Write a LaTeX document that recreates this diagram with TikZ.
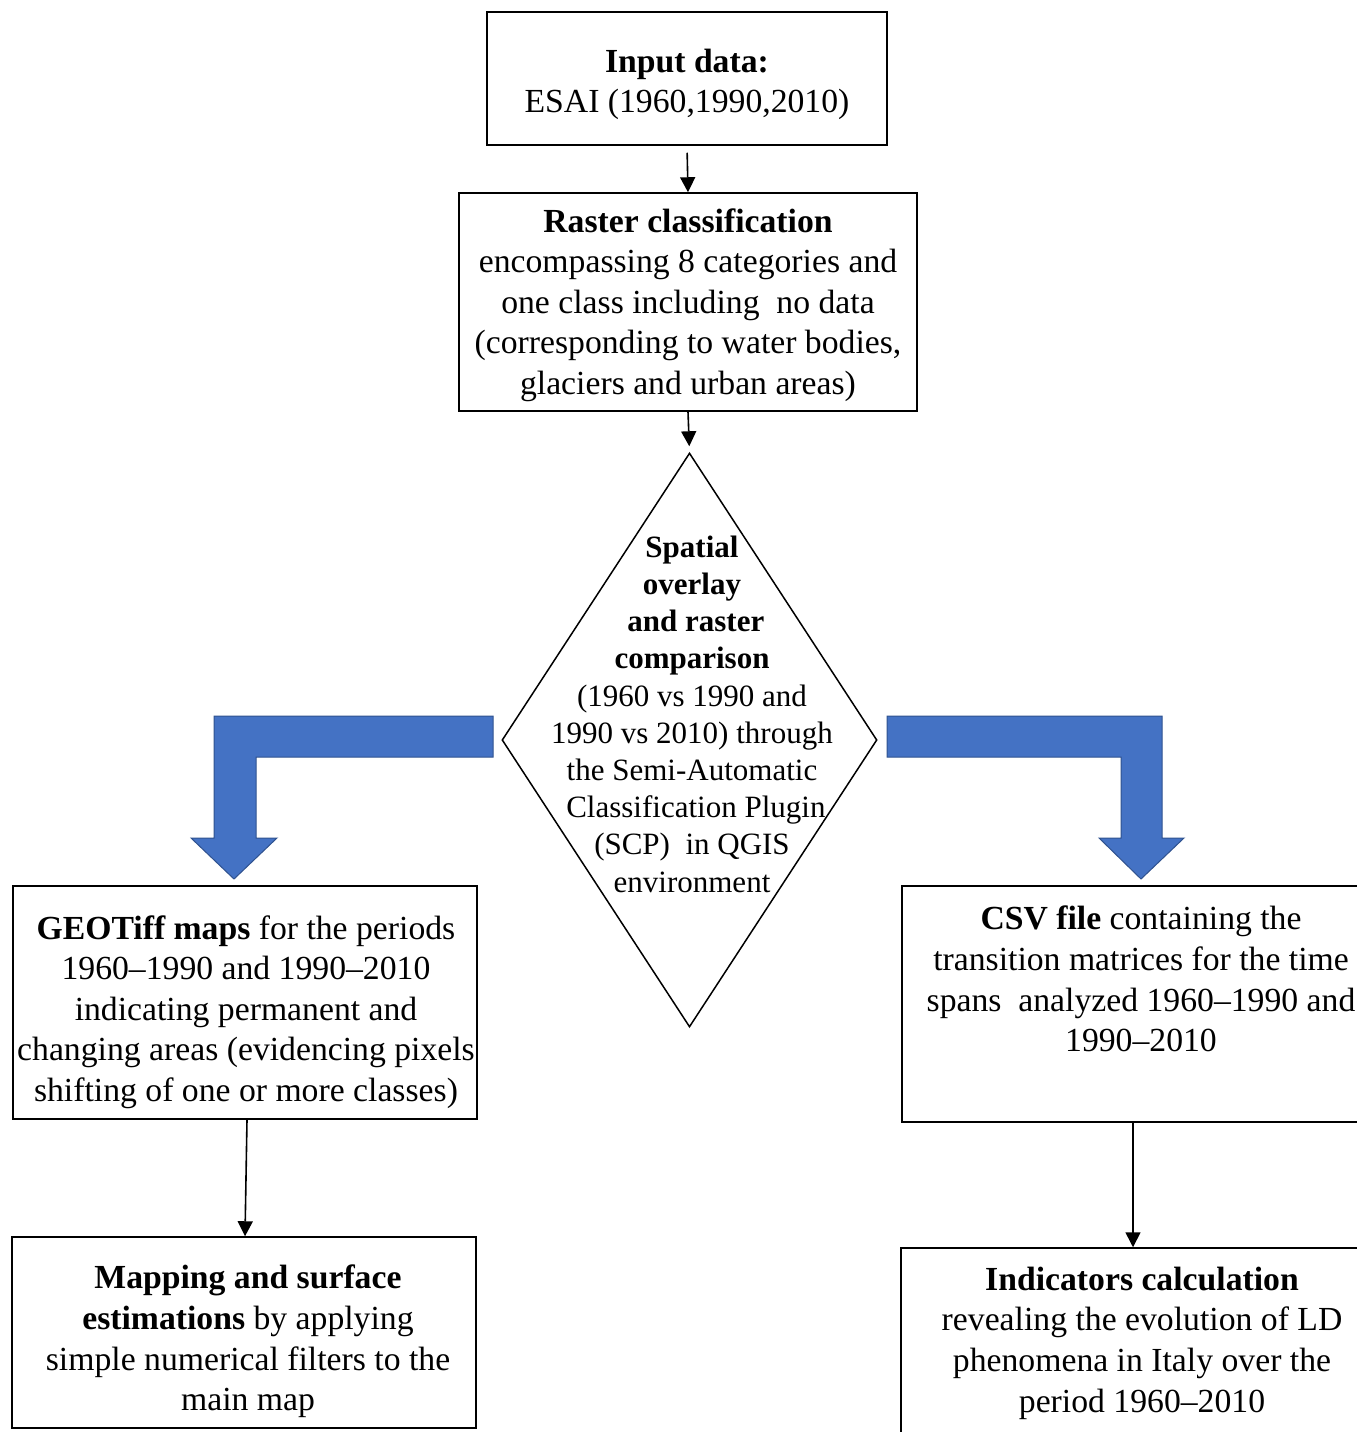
\documentclass[tikz,border=0pt]{standalone}
\usepackage{fontspec}
\setmainfont{Liberation Serif}
\usetikzlibrary{arrows.meta,shapes.geometric}
\definecolor{arrowblue}{HTML}{4472C4}
\definecolor{arrowedge}{HTML}{2F528F}
\tikzset{
  box/.style={draw, line width=1.5pt, inner sep=0pt},
  txt/.style={align=center, inner sep=0pt, font=\fontsize{33.7}{40.6}\selectfont},
  dtxt/.style={align=center, inner sep=0pt, font=\fontsize{31}{37.2}\selectfont},
  conn/.style={line width=1.6pt, -{Triangle[width=15pt,length=15pt]}},
  bigarrow/.style={fill=arrowblue, draw=arrowedge, line width=1pt, line join=miter}
}
\begin{document}
\begin{tikzpicture}[x=1pt,y=-1pt]
\useasboundingbox (0,0) rectangle (1357,1432);

\node[box, minimum width=400, minimum height=133] (input) at (687,78.5) {};
\node[txt] (inputtext) at (687,84.5)
  {\textbf{Input data:}\\ESAI (1960,1990,2010)};
\node[box, minimum width=458, minimum height=218] (raster) at (688,302) {};
\node[txt] (rastertext) at (688,305)
  {\textbf{Raster classification}\\encompassing 8 categories and\\one class including\ \ no data\\(corresponding to water bodies,\\glaciers and urban areas)};

\node[draw, diamond, line width=1.5pt, inner sep=0pt, minimum width=375, minimum height=574] (dia) at (689.5,740) {};
\node[dtxt] (diatext) at (692,714)
  {\textbf{Spatial}\\\textbf{overlay}\\\ \textbf{and raster}\\\textbf{comparison}\\(1960 vs 1990 and\\1990 vs 2010) through\\the Semi-Automatic\\\ Classification Plugin\\(SCP)\ \ in QGIS\\environment};

\node[box, minimum width=464, minimum height=233] (geo) at (245,1002.5) {};
\node[txt] (geotext) at (246,1012)
  {\textbf{GEOTiff maps} for the periods\\1960--1990 and 1990--2010\\indicating permanent and\\changing areas (evidencing pixels\\shifting of one or more classes)};
\node[box, minimum width=464, minimum height=191] (map) at (244,1332.5) {};
\node[txt] (maptext) at (248,1341.5)
  {\textbf{Mapping and surface}\\\textbf{estimations} by applying\\simple numerical filters to the\\main map};

\node[box, minimum width=478, minimum height=236] (csv) at (1141,1004) {};
\node[txt] (csvtext) at (1141,979)
  {\textbf{CSV file} containing the\\transition matrices for the time\\spans\ \ analyzed 1960--1990 and\\1990--2010};
\node[box, minimum width=480, minimum height=200] (ind) at (1141,1348) {};
\node[txt] (indtext) at (1142,1343)
  {\textbf{Indicators calculation}\\revealing the evolution of LD\\phenomena in Italy over the\\period 1960--2010};

\draw[conn, shorten <=7pt] (input.south) -- (raster.north);
\draw[conn, shorten >=6pt] (raster.south) -- (dia.north);
\draw[conn] ([xshift=2pt]geo.south) -- ([xshift=1pt]map.north);
\draw[conn] ([xshift=-8pt]csv.south) -- ([xshift=-8pt]ind.north);

\draw[bigarrow] (493,716) -- (214,716) -- (214,838) -- (191,838) -- (234,879)
  -- (277,838) -- (256,838) -- (256,757) -- (493,757) -- cycle;
\draw[bigarrow] (887,716) -- (1162,716) -- (1162,838) -- (1184,838) -- (1141,879)
  -- (1099,838) -- (1121,838) -- (1121,757) -- (887,757) -- cycle;
\end{tikzpicture}
\end{document}
